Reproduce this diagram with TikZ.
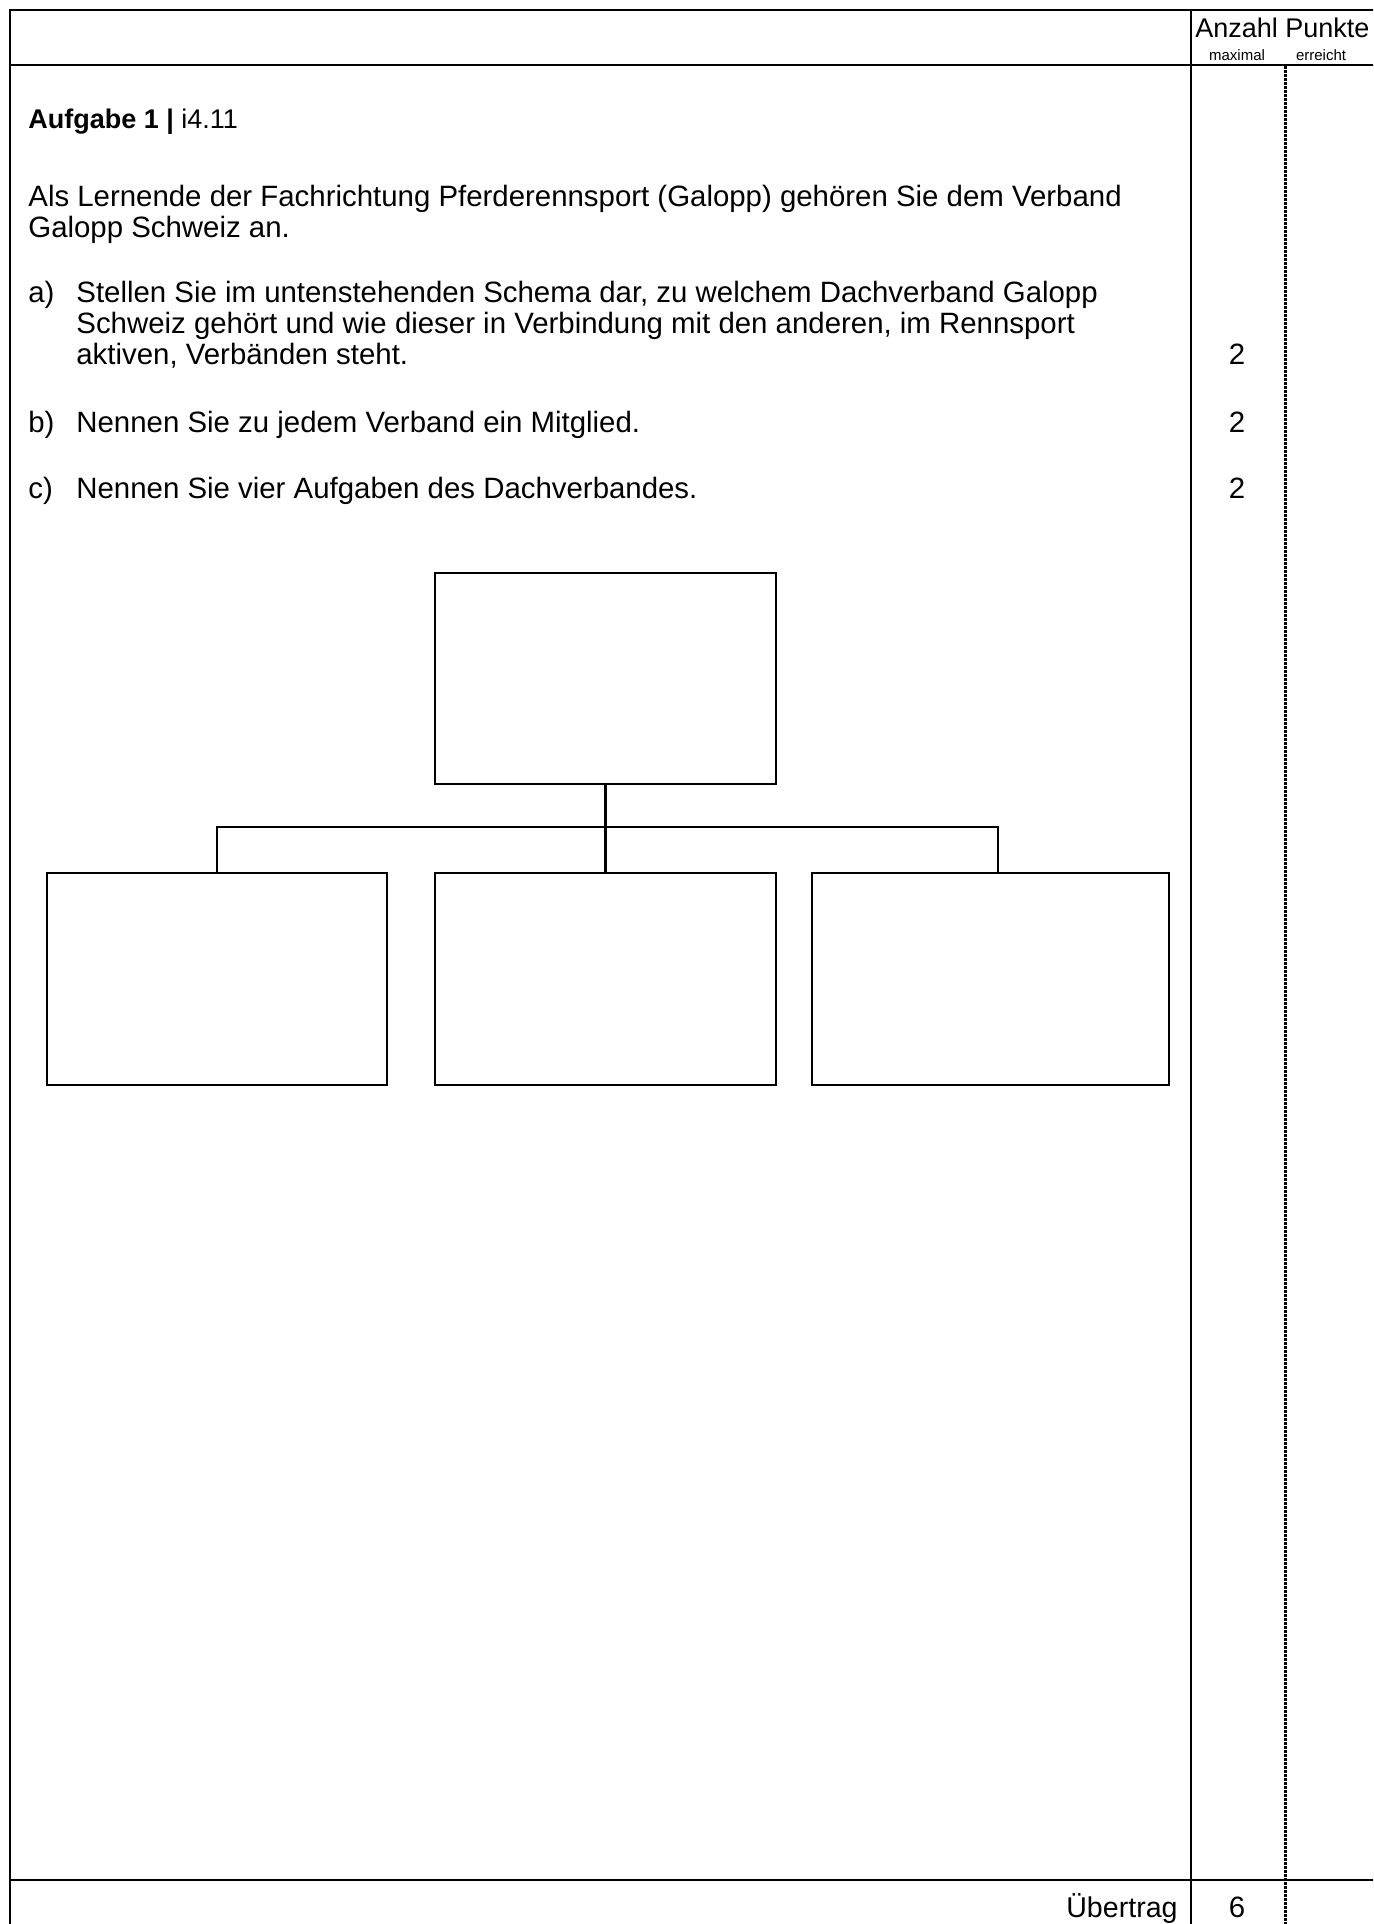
\documentclass[tikz,border=0pt]{standalone}
\usepackage{fontspec}
\setmainfont{Liberation Sans}
\begin{document}
\begin{tikzpicture}[x=0.5pt,y=-0.5pt,
  rule/.style={line width=1.3pt, line cap=rect},
  dashrule/.style={line width=1.5pt, dash pattern=on 1.6pt off 0.4pt},
  box/.style={draw, line width=1.2pt, inner sep=0pt, outer sep=0pt, minimum width=#1},
  box/.default=170.5pt,
  conn/.style={line width=1.2pt},
  txt/.style={anchor=base west, inner sep=0pt, font=\fontsize{14.7}{17}\selectfont},
  txtc/.style={anchor=base, inner sep=0pt, font=\fontsize{14.7}{17}\selectfont},
  head/.style={anchor=base west, inner sep=0pt, font=\fontsize{13.5}{16}\selectfont},
  small/.style={anchor=base, inner sep=0pt, font=\fontsize{7.5}{9}\selectfont}]
\useasboundingbox (0,0) rectangle (1373,1924);
\clip (0,0) rectangle (1373,1924);
% table frame
\draw[rule] (10,1930) -- (10,10) -- (1380,10);
\draw[rule] (10,65) -- (1380,65);
\draw[rule] (1191,10) -- (1191,1930);
\draw[rule] (10,1880) -- (1380,1880);
\draw[dashrule] (1285,66) -- (1285,1930);
% header
\node[head] (hdr) at (1195,37) {Anzahl Punkte};
\node[small] (max) at (1237,60) {maximal};
\node[small] (err) at (1321,60) {erreicht};
% text
\node[head] (title) at (28,128) {\textbf{Aufgabe 1 |} i4.11};
\node[txt] (l1) at (28,206) {Als Lernende der Fachrichtung Pferderennsport (Galopp) gehören Sie dem Verband};
\node[txt] (l2) at (28,237) {Galopp Schweiz an.};
\node[txt] (la) at (28,302) {a)};
\node[txt] (la1) at (76,302) {Stellen Sie im untenstehenden Schema dar, zu welchem Dachverband Galopp};
\node[txt] (la2) at (76,333) {Schweiz gehört und wie dieser in Verbindung mit den anderen, im Rennsport};
\node[txt] (la3) at (76,364) {aktiven, Verbänden steht.};
\node[txt] (lb) at (28,432) {b)};
\node[txt] (lb1) at (76,432) {Nennen Sie zu jedem Verband ein Mitglied.};
\node[txt] (lc) at (28,498) {c)};
\node[txt] (lc1) at (76,498) {Nennen Sie vier Aufgaben des Dachverbandes.};
\node[txtc] (pa) at (1237,364) {2};
\node[txtc] (pb) at (1237,432) {2};
\node[txtc] (pc) at (1237,498) {2};
% footer
\node[txt, anchor=base east, font=\fontsize{14.3}{17}\selectfont] (ueb) at (1178,1917) {Übertrag};
\node[txtc] (sum) at (1237,1917) {6};
% schema
\node[box, minimum height=105.5pt] (top) at (605.5,678.5) {};
\node[box=170pt, minimum height=106pt] (left) at (217,979) {};
\node[box, minimum height=106pt] (mid) at (605.5,979) {};
\node[box=178.5pt, minimum height=106pt] (right) at (990.5,979) {};
\coordinate (barL) at (217,827);
\coordinate (barR) at (998,827);
\draw[conn] (top.south) -- (mid.north);
\draw[conn] (left.north) -- (barL) -- (barR) -- (barR |- right.north);
\end{tikzpicture}
\end{document}
